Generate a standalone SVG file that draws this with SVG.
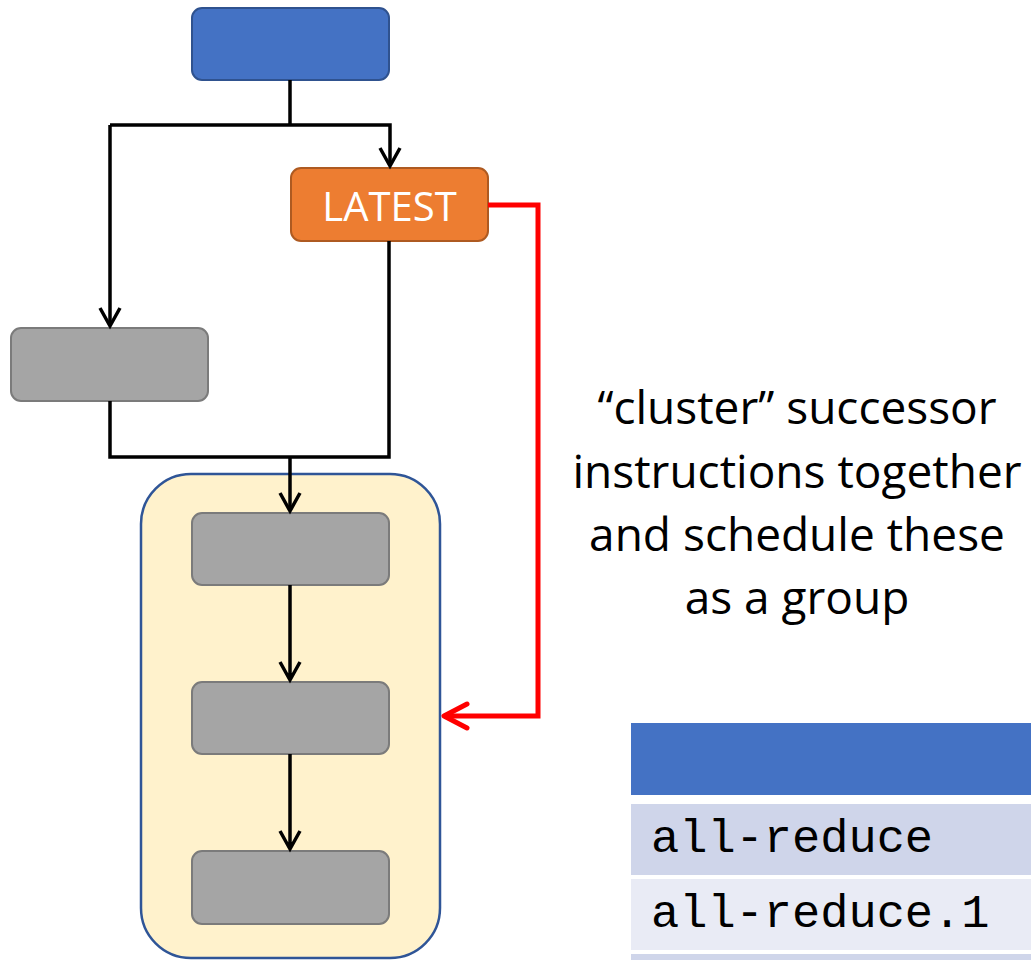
<svg xmlns="http://www.w3.org/2000/svg" width="1031" height="960" viewBox="0 0 1031 960">
<defs>
<style>
.gray{fill:#A5A5A5;stroke:#7B7B7B;stroke-width:2}
.conn{fill:none;stroke:#000;stroke-width:3.5}
.red{fill:none;stroke:#FF0000;stroke-width:5}
.note{font-family:"Open Sans","Liberation Sans",sans-serif;font-size:46px;fill:#000;text-anchor:middle}
.mono{font-family:"Liberation Mono",monospace;font-size:47px;fill:#000}
</style>
</defs>
<rect width="1031" height="960" fill="#fff"/>
<g id="cluster"><rect x="141" y="474" width="299" height="484" rx="50" fill="#FFF2CC" stroke="#2F5597" stroke-width="2.5"/></g>
<g id="top"><rect x="192" y="8" width="197" height="72" rx="10" fill="#4472C4" stroke="#2F528F" stroke-width="2"/></g>
<g id="latest"><rect x="291" y="168" width="197" height="73" rx="10" fill="#ED7D31" stroke="#AE5A21" stroke-width="2"/><text x="389.5" y="221" font-family="Open Sans,Liberation Sans,sans-serif" font-size="40" fill="#fff" text-anchor="middle">LATEST</text></g>
<g id="left"><rect class="gray" x="11" y="328" width="197" height="73" rx="10"/></g>
<g id="c1"><rect class="gray" x="192" y="513" width="197" height="72" rx="10"/></g>
<g id="c2"><rect class="gray" x="192" y="682" width="197" height="72" rx="10"/></g>
<g id="c3"><rect class="gray" x="192" y="851" width="197" height="73" rx="10"/></g>
<g id="connectors">
<path class="conn" d="M290 80V125M110 125H390V166M110 125V326"/>
<path class="conn" d="M380 148L390 166L400 148M100 308L110 326L120 308"/>
<path class="conn" d="M110 401V457H389V241M290 457V511"/>
<path class="conn" d="M280 493L290 511L300 493"/>
<path class="conn" d="M290 585V680M280 662L290 680L300 662"/>
<path class="conn" d="M290 754V849M280 831L290 849L300 831"/>
<path class="red" d="M488 205H538V716H444"/>
<path class="red" stroke-linecap="round" stroke-linejoin="round" d="M467 704L444 716L467 728"/>
</g>
<g id="note">
<text class="note" x="797" y="424">“cluster” successor</text>
<text class="note" x="797" y="488">instructions together</text>
<text class="note" x="797" y="551">and schedule these</text>
<text class="note" x="797" y="614">as a group</text>
</g>
<g id="table">
<rect x="631" y="723" width="400" height="72" fill="#4472C4"/>
<rect x="631" y="804" width="400" height="71" fill="#CFD5EA"/>
<rect x="631" y="879" width="400" height="71" fill="#E9EBF5"/>
<rect x="631" y="954" width="400" height="10" fill="#CFD5EA"/>
<text class="mono" x="651" y="852">all-reduce</text>
<text class="mono" x="651" y="927">all-reduce.1</text>
</g>
</svg>
